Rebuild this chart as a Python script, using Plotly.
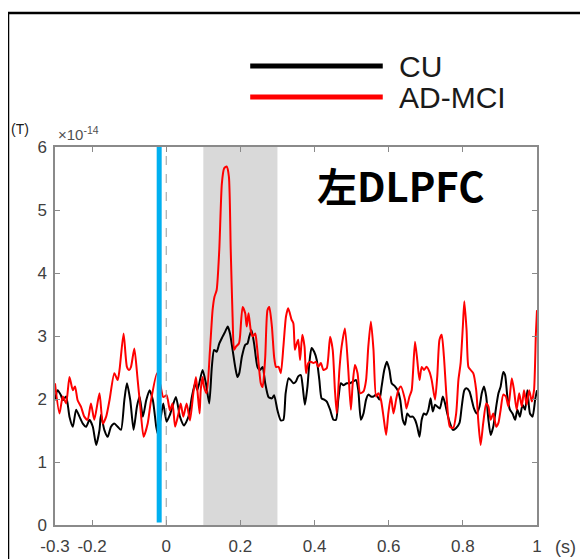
#Sinal MEG - DLPFC esquerdo (CU vs AD-MCI)
#%%
import plotly.graph_objects as go

# tempo (s) e amplitude (x10^-14 T)
t_cu = [-0.300, -0.293, -0.284, -0.279, -0.270, -0.261, -0.252, -0.243, -0.234, -0.225,
        -0.216, -0.207, -0.198, -0.189, -0.180, -0.176, -0.167, -0.158, -0.149, -0.140,
        -0.131, -0.122, -0.113, -0.106, -0.097, -0.088, -0.079, -0.072, -0.063, -0.054,
        -0.045, -0.036, -0.027, -0.023, -0.015, -0.008, 0.001, 0.010, 0.026, 0.037,
        0.048, 0.060, 0.069, 0.078, 0.084, 0.098, 0.107, 0.116, 0.123, 0.129,
        0.136, 0.143, 0.152, 0.159, 0.166, 0.172, 0.179, 0.186, 0.192, 0.197,
        0.204, 0.213, 0.219, 0.224, 0.230, 0.237, 0.246, 0.253, 0.260, 0.267,
        0.276, 0.285, 0.291, 0.300, 0.309, 0.316, 0.322, 0.330, 0.336, 0.343,
        0.350, 0.356, 0.363, 0.368, 0.374, 0.381, 0.386, 0.392, 0.399, 0.406,
        0.413, 0.419, 0.426, 0.433, 0.442, 0.451, 0.458, 0.464, 0.471, 0.478,
        0.487, 0.496, 0.505, 0.512, 0.518, 0.525, 0.532, 0.539, 0.545, 0.552,
        0.559, 0.566, 0.575, 0.581, 0.588, 0.595, 0.602, 0.608, 0.617, 0.624,
        0.631, 0.638, 0.644, 0.650, 0.657, 0.665, 0.671, 0.677, 0.683, 0.689,
        0.695, 0.701, 0.707, 0.713, 0.719, 0.725, 0.731, 0.738, 0.746, 0.752,
        0.758, 0.765, 0.773, 0.782, 0.791, 0.797, 0.804, 0.810, 0.818, 0.824,
        0.830, 0.837, 0.845, 0.851, 0.857, 0.863, 0.869, 0.875, 0.882, 0.890,
        0.896, 0.902, 0.909, 0.914, 0.920, 0.927, 0.934, 0.941, 0.947, 0.954,
        0.961, 0.968, 0.974, 0.981, 0.988, 0.995, 1.000]
cu = [1.98, 2.14, 2.06, 1.98, 2.04, 1.72, 1.56, 1.83, 1.72, 1.61,
      1.56, 1.67, 1.56, 1.27, 1.51, 1.75, 1.51, 1.40, 1.56, 1.61,
      1.56, 1.51, 1.98, 2.25, 1.98, 1.51, 1.88, 2.04, 1.72, 1.98,
      2.14, 1.98, 1.56, 1.45, 1.70, 1.93, 1.64, 1.75, 2.03, 1.72,
      1.58, 1.72, 2.03, 2.25, 2.14, 2.46, 2.25, 1.93, 2.51, 2.78,
      2.75, 2.88, 2.99, 3.07, 3.15, 3.04, 2.78, 2.51, 2.35, 2.41,
      2.67, 2.86, 2.88, 2.99, 3.09, 2.88, 2.51, 2.46, 2.51, 2.25,
      2.03, 2.01, 2.06, 1.82, 1.66, 1.67, 2.09, 2.33, 2.30, 2.25,
      2.28, 2.36, 2.38, 2.20, 1.91, 2.20, 2.57, 2.81, 2.75, 2.62,
      2.30, 2.01, 1.99, 1.96, 1.83, 1.67, 1.67, 1.99, 2.25, 2.22,
      2.25, 2.25, 2.28, 2.30, 2.14, 1.67, 1.77, 1.99, 2.07, 2.04,
      2.04, 2.07, 1.99, 2.20, 2.46, 2.59, 2.46, 2.25, 2.20, 2.14,
      1.99, 1.67, 1.59, 1.77, 1.72, 1.72, 1.67, 1.56, 1.40, 1.67,
      1.77, 1.75, 1.83, 2.01, 1.80, 1.91, 1.88, 1.85, 2.04, 1.93,
      1.77, 1.62, 1.51, 1.54, 1.62, 1.88, 2.14, 2.17, 2.12, 1.99,
      1.85, 1.77, 1.88, 2.09, 2.20, 2.04, 1.67, 1.43, 1.56, 1.88,
      2.09, 2.20, 2.43, 2.38, 2.04, 1.83, 1.77, 1.67, 1.83, 1.72,
      1.91, 1.83, 2.14, 1.77, 1.72, 1.99, 2.14]

t_ad = [-0.300, -0.288, -0.279, -0.270, -0.261, -0.252, -0.246, -0.239, -0.230, -0.221,
        -0.212, -0.203, -0.194, -0.180, -0.171, -0.162, -0.153, -0.140, -0.131, -0.126,
        -0.115, -0.106, -0.100, -0.095, -0.086, -0.077, -0.070, -0.061, -0.050, -0.041,
        -0.025, -0.015, -0.008, 0.001, 0.010, 0.017, 0.024, 0.033, 0.039, 0.046,
        0.055, 0.064, 0.073, 0.080, 0.084, 0.090, 0.093, 0.098, 0.102, 0.109,
        0.118, 0.125, 0.130, 0.136, 0.143, 0.150, 0.156, 0.163, 0.169, 0.174,
        0.179, 0.183, 0.188, 0.196, 0.199, 0.206, 0.213, 0.217, 0.222, 0.228,
        0.233, 0.240, 0.244, 0.250, 0.255, 0.260, 0.267, 0.273, 0.278, 0.285,
        0.291, 0.296, 0.303, 0.309, 0.316, 0.323, 0.329, 0.338, 0.343, 0.347,
        0.352, 0.356, 0.361, 0.367, 0.373, 0.377, 0.383, 0.390, 0.397, 0.404,
        0.410, 0.417, 0.424, 0.433, 0.442, 0.449, 0.455, 0.460, 0.467, 0.473,
        0.482, 0.491, 0.498, 0.503, 0.509, 0.516, 0.523, 0.532, 0.539, 0.545,
        0.552, 0.559, 0.566, 0.572, 0.579, 0.586, 0.593, 0.599, 0.606, 0.613,
        0.620, 0.626, 0.633, 0.644, 0.648, 0.656, 0.662, 0.671, 0.677, 0.683,
        0.689, 0.695, 0.702, 0.710, 0.716, 0.725, 0.731, 0.737, 0.743, 0.749,
        0.756, 0.765, 0.774, 0.782, 0.788, 0.794, 0.800, 0.804, 0.810, 0.815,
        0.821, 0.828, 0.836, 0.842, 0.848, 0.855, 0.863, 0.869, 0.875, 0.882,
        0.890, 0.896, 0.902, 0.909, 0.916, 0.923, 0.932, 0.938, 0.945, 0.952,
        0.959, 0.965, 0.972, 0.979, 0.986, 0.992, 0.997, 1.000]
ad = [2.25, 1.77, 2.04, 1.93, 2.35, 2.14, 2.20, 1.98, 1.88, 1.72,
      1.67, 1.93, 1.67, 2.09, 1.61, 1.72, 1.98, 2.41, 2.30, 2.46,
      3.04, 2.51, 2.46, 2.51, 2.80, 2.30, 1.88, 1.40, 1.61, 1.98,
      2.41, 2.20, 2.03, 2.06, 1.82, 1.93, 1.56, 1.77, 1.93, 1.72,
      1.93, 1.66, 2.09, 2.35, 2.14, 1.77, 2.14, 2.35, 2.19, 2.09,
      2.78, 3.41, 3.62, 3.73, 4.36, 5.42, 5.66, 5.69, 5.53, 4.36,
      3.30, 2.78, 2.83, 2.88, 2.99, 3.46, 3.36, 3.15, 3.36, 3.09,
      2.99, 3.04, 2.88, 2.51, 2.25, 2.19, 2.67, 3.41, 3.46, 3.15,
      2.67, 2.51, 2.51, 2.41, 2.83, 3.31, 3.44, 3.26, 3.20, 2.78,
      2.88, 2.94, 2.62, 3.02, 2.83, 2.41, 2.57, 2.59, 2.57, 2.59,
      2.51, 2.57, 2.46, 2.49, 2.99, 2.78, 2.14, 1.77, 2.46, 2.83,
      3.12, 2.46, 1.83, 2.25, 2.54, 2.41, 2.09, 2.12, 2.30, 2.83,
      3.23, 2.78, 2.04, 2.09, 1.99, 1.72, 1.43, 1.77, 2.04, 1.77,
      1.99, 2.14, 2.20, 1.99, 1.85, 2.04, 2.14, 2.91, 2.62, 2.30,
      2.51, 2.46, 2.51, 2.43, 2.30, 1.99, 2.36, 2.94, 3.02, 2.67,
      2.04, 1.56, 1.54, 1.77, 2.30, 2.57, 3.15, 3.55, 3.10, 2.51,
      2.46, 2.41, 2.14, 1.62, 1.27, 1.62, 1.93, 1.88, 1.67, 1.77,
      1.56, 1.62, 1.83, 2.07, 2.04, 1.88, 2.33, 2.14, 1.83, 2.09,
      1.88, 2.14, 1.91, 2.14, 1.96, 2.14, 3.04, 3.41]

x_ticks = [-0.3, -0.2, 0, 0.2, 0.4, 0.6, 0.8, 1]
x_labels = ['-0.3', '-0.2', '0', '0.2', '0.4', '0.6', '0.8', '1']
y_ticks = [0, 1, 2, 3, 4, 5, 6]
janela = [0.1, 0.3]      # janela sombreada
estimulo = -0.019        # linha azul

#%%
fig = go.Figure()

fig.add_trace(go.Scatter(x=t_cu, y=cu, mode='lines', name='CU',
                         line=dict(color='black', width=2, shape='spline', smoothing=0.6)))
fig.add_trace(go.Scatter(x=t_ad, y=ad, mode='lines', name='AD-MCI',
                         line=dict(color='#ff0000', width=2, shape='spline', smoothing=0.6)))

# janela cinza, linha tracejada em 0 e linha azul
fig.add_shape(type='rect', xref='x', yref='y', x0=janela[0], x1=janela[1], y0=0, y1=6,
              fillcolor='#d9d9d9', line=dict(width=0), layer='below')
fig.add_shape(type='line', xref='x', yref='y', x0=0, x1=0, y0=0, y1=6,
              line=dict(color='#9a9a9a', width=1, dash='dash'))
fig.add_shape(type='line', xref='x', yref='y', x0=estimulo, x1=estimulo, y0=0.04, y1=6,
              line=dict(color='#00b0f0', width=5))

# legenda desenhada a mao (linhas longas)
fig.add_shape(type='line', xref='paper', yref='paper', x0=0.405, x1=0.68, y0=1.214, y1=1.214,
              line=dict(color='black', width=5))
fig.add_shape(type='line', xref='paper', yref='paper', x0=0.405, x1=0.68, y0=1.132, y1=1.132,
              line=dict(color='#ff0000', width=5))
fig.add_annotation(x=0.71, y=1.214, xref='paper', yref='paper', text='CU', showarrow=False,
                   xanchor='left', yanchor='middle', font=dict(size=30, color='#1a1a1a'))
fig.add_annotation(x=0.71, y=1.132, xref='paper', yref='paper', text='AD-MCI', showarrow=False,
                   xanchor='left', yanchor='middle', font=dict(size=30, color='#1a1a1a'))

# moldura externa
fig.add_shape(type='rect', xref='paper', yref='paper', x0=-0.0975, x1=1.14, y0=-0.14, y1=1.3545,
              line=dict(color='black', width=2.5))

# textos
fig.add_annotation(x=0.718, y=0.90, xref='paper', yref='paper', text='<b>左DLPFC</b>',
                   showarrow=False, xanchor='center', yanchor='middle',
                   font=dict(size=40, color='black', family='Noto Sans CJK JP'))
fig.add_annotation(x=-0.073, y=1.047, xref='paper', yref='paper', text='(T)', showarrow=False,
                   xanchor='center', yanchor='middle', font=dict(size=14, color='#1a1a1a'))
fig.add_annotation(x=0.048, y=1.035, xref='paper', yref='paper', text='×10<sup>-14</sup>',
                   showarrow=False, xanchor='center', yanchor='middle',
                   font=dict(size=15, color='#505050'))
fig.add_annotation(x=1.06, y=-0.058, xref='paper', yref='paper', text='(s)', showarrow=False,
                   xanchor='center', yanchor='middle', font=dict(size=18, color='#404040'))

eixo = dict(showline=True, linecolor='#8a8a8a', linewidth=1.5, mirror='ticks',
            ticks='inside', ticklen=5, tickcolor='#8a8a8a', showgrid=False, zeroline=False,
            automargin=False, tickfont=dict(size=17, color='#404040'))
fig.update_xaxes(range=[-0.3, 1], tickvals=x_ticks, ticktext=x_labels,
                 ticklabelstandoff=5, **eixo)
fig.update_yaxes(range=[0, 6], tickvals=y_ticks, ticklabelstandoff=3, **eixo)

# a pagina tem margem de 8px: figura um pouco menor para caber na janela
fig.update_layout(width=580, height=551, autosize=False, showlegend=False,
                  margin=dict(l=47, r=51, t=139, b=34),
                  plot_bgcolor='white', paper_bgcolor='white',
                  font=dict(family='Liberation Sans, Arial, sans-serif'))

fig.write_html("out.html")
